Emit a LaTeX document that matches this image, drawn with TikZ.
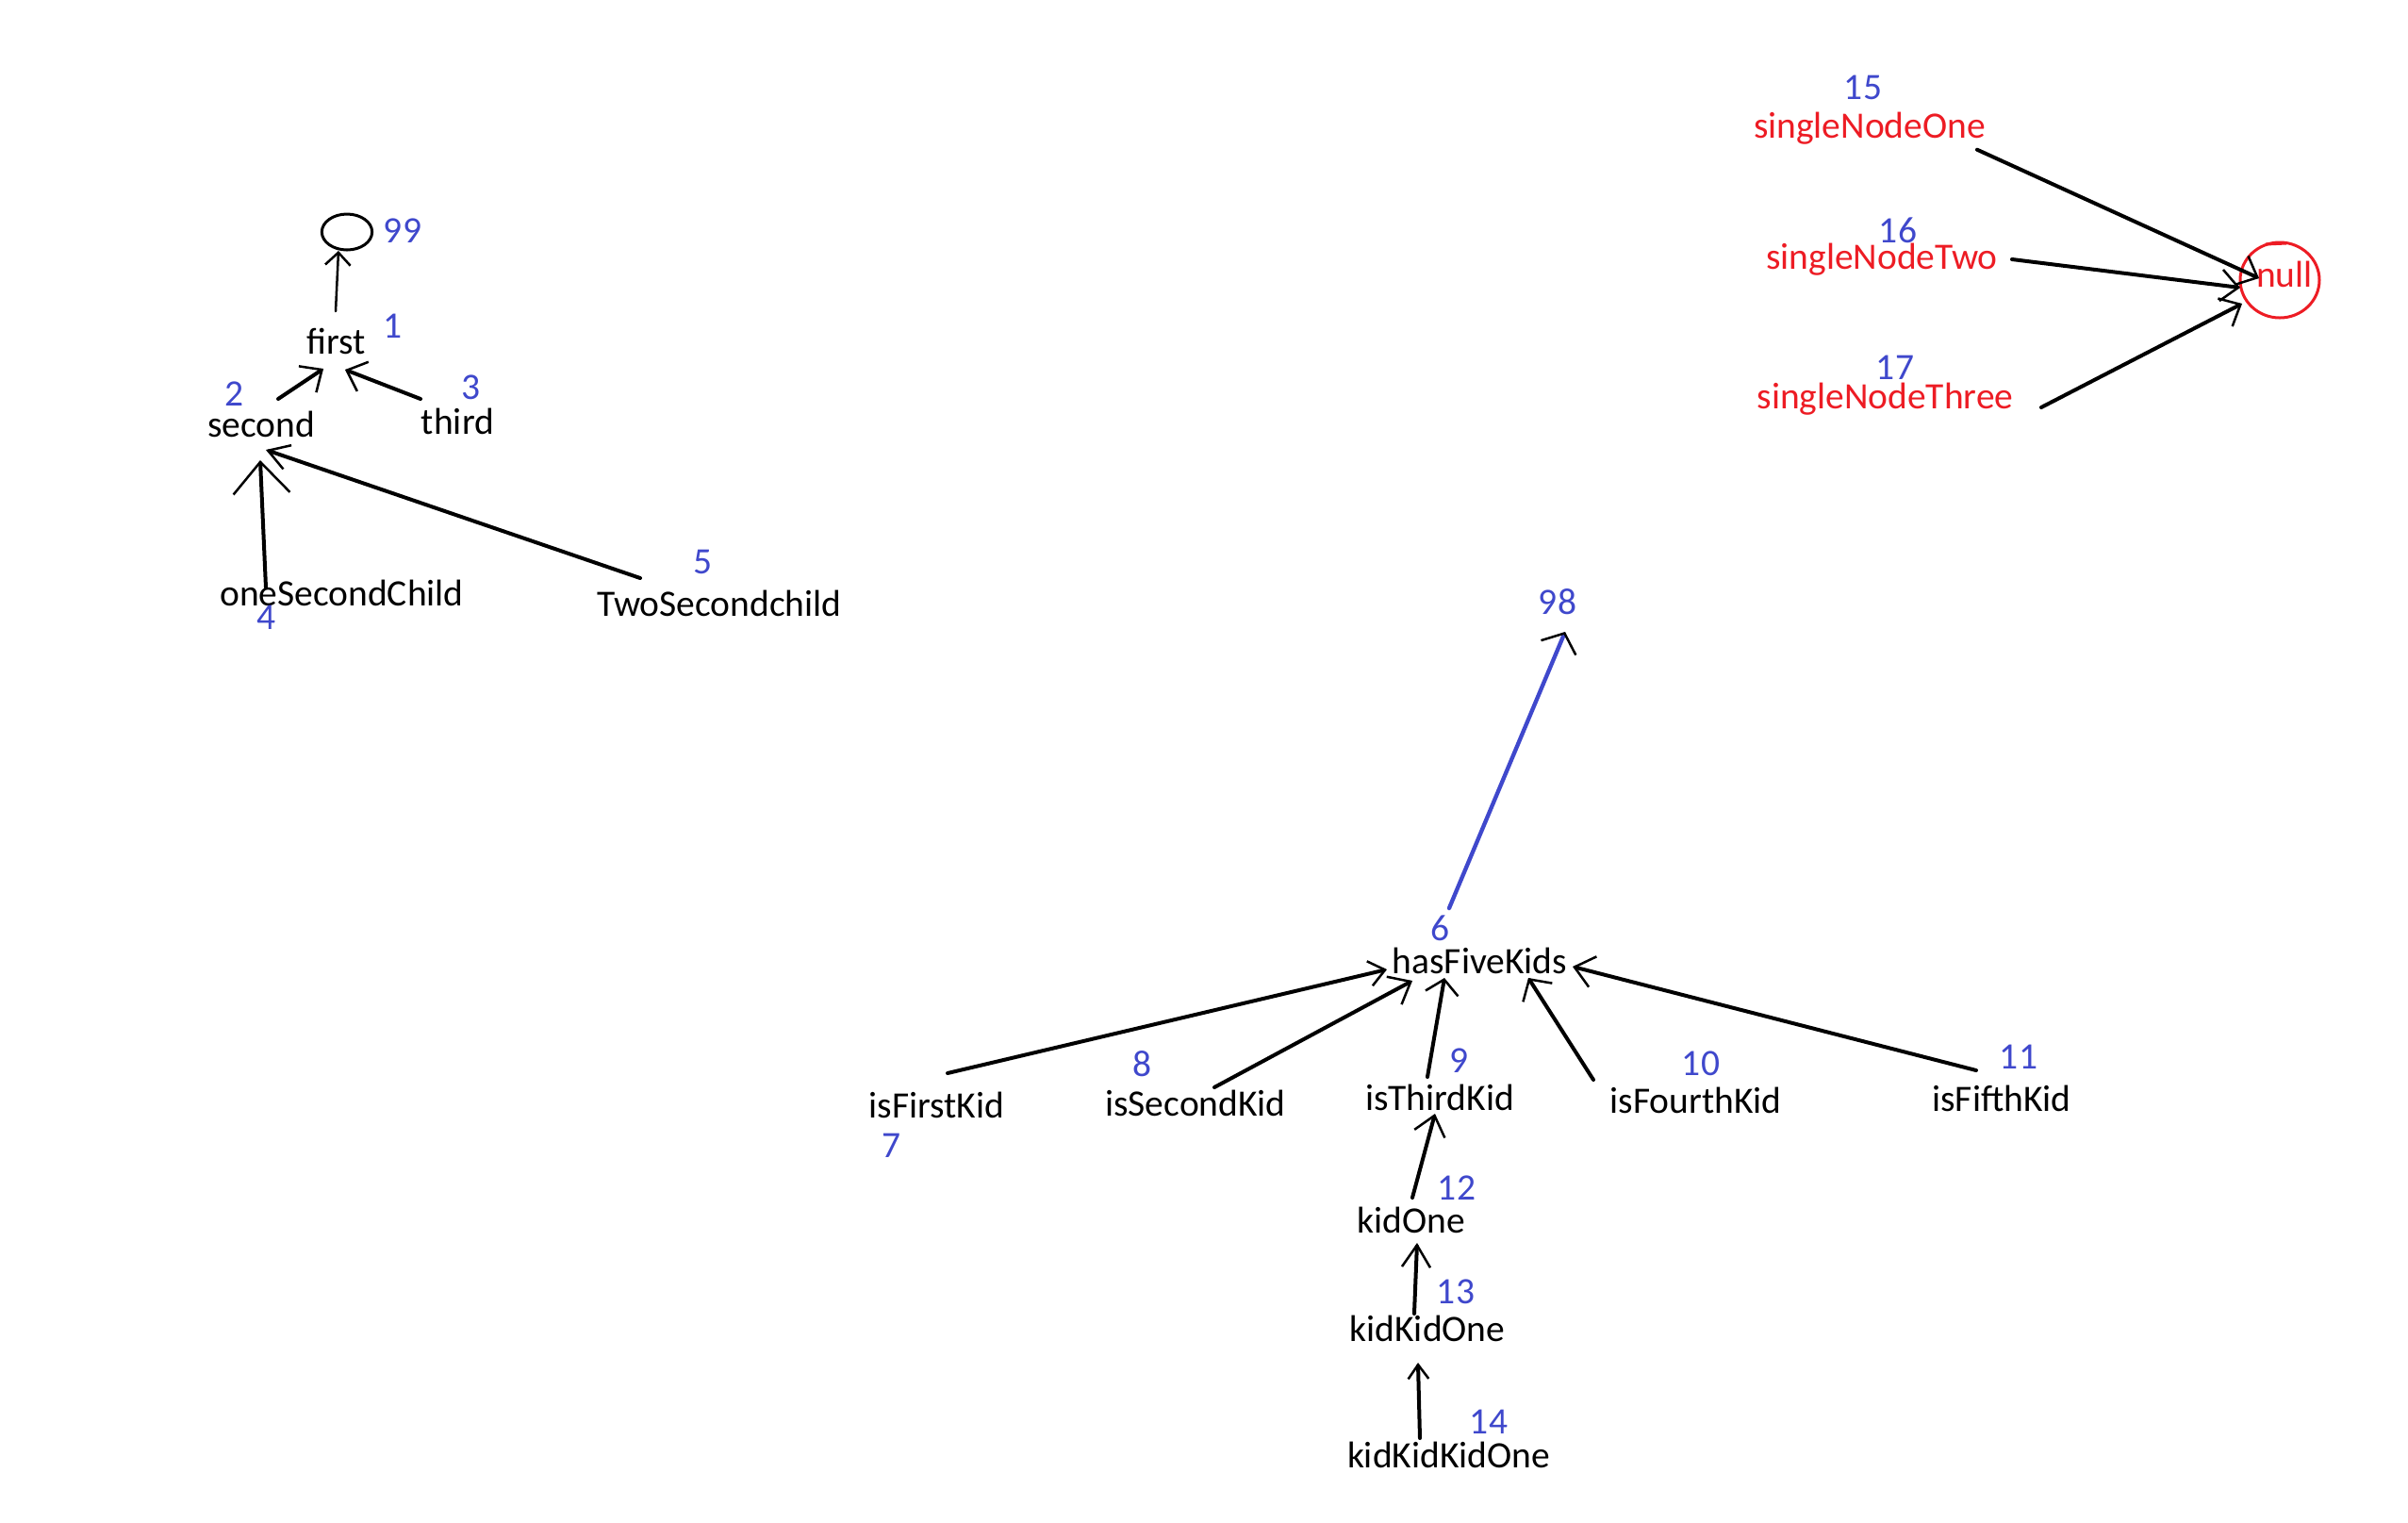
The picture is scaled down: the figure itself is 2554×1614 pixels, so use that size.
\documentclass[tikz,border=0pt]{standalone}
\usepackage{fontspec}
\setmainfont{Carlito}
\usetikzlibrary{arrows.meta,calc,shapes.geometric}
\definecolor{paintblue}{HTML}{3F48CC}
\definecolor{paintred}{HTML}{ED1C24}
\begin{document}
\begin{tikzpicture}[x=0.3pt,y=-0.3pt,
  lbl/.style={anchor=base,inner sep=0pt,font=\fontsize{11.85}{14}\selectfont},
  word/.style={lbl,text=black},
  idx/.style={lbl,text=paintblue},
  rword/.style={lbl,text=paintred},
  arr/.style n args={2}{-{Straight Barb[length=#1,width=#2,line width=0.75pt]}},
  link/.style={draw=black,line width=1.2pt,line cap=round,arr={5.5pt}{10pt}},
  thinlink/.style={draw=black,line width=0.75pt,line cap=round,arr={4pt}{8pt}},
  bluelink/.style={draw=paintblue,line width=1.3pt,line cap=round,
    -{Straight Barb[length=5pt,width=12pt,line width=0.75pt,color=black]}},
  pen/.style={line width=0.9pt}]
\path[use as bounding box,fill=white] (0,0) rectangle (2554,1614);

% ---- first tree ----
\node[draw,pen,ellipse,minimum width=16pt,minimum height=11.4pt,inner sep=0pt] (n99) at (368,246) {};
\node[idx] (num99) at (427,257) {99};
\node[word] (first) at (357,375) {first};
\node[idx] (num1) at (417,358) {1};
\node[word] (second) at (277,463) {second};
\node[idx] (num2) at (249,430) {2};
\node[word] (third) at (485.5,460) {third};
\node[idx] (num3) at (500,423) {3};
\node[word] (oneSecondChild) at (362.5,642) {oneSecondChild};
\node[idx] (num4) at (283,667) {4};
\node[word] (TwoSecondchild) at (763,653) {TwoSecondchild};
\node[idx] (num5) at (746,608) {5};

\draw[thinlink] ($(first.base)+(-1,-45)$) -- ($(n99.center)+(-9,20)$);
\draw[link] ($(second.base)+(18,-40)$) -- ($(first.base)+(-14,16)$);
\draw[link] ($(third.base)+(-39.5,-37)$) -- ($(first.base)+(9,17)$);
\draw[link,arr={10pt}{18pt}] ($(oneSecondChild.base)+(-80.5,-19)$) -- ($(second.base)+(-1,25)$);
\draw[link,arr={6.5pt}{8pt}] ($(TwoSecondchild.base)+(-84,-40)$) -- ($(second.base)+(5,14)$);

% ---- second tree ----
\node[idx] (num98) at (1652,651) {98};
\node[word] (hasFiveKids) at (1569.5,1032) {hasFiveKids};
\node[idx] (num6) at (1528,997) {6};
\node[word] (isFirstKid) at (993.5,1185) {isFirstKid};
\node[idx] (num7) at (946,1227) {7};
\node[word] (isSecondKid) at (1268,1183) {isSecondKid};
\node[idx] (num8) at (1212,1141) {8};
\node[word] (isThirdKid) at (1527,1177) {isThirdKid};
\node[idx] (num9) at (1547,1137) {9};
\node[word] (isFourthKid) at (1798.5,1180) {isFourthKid};
\node[idx] (num10) at (1804,1140) {10};
\node[word] (isFifthKid) at (2123,1178) {isFifthKid};
\node[idx] (num11) at (2141,1133) {11};
\node[word] (kidOne) at (1497,1307) {kidOne};
\node[idx] (num12) at (1545,1272) {12};
\node[word] (kidKidOne) at (1514,1422) {kidKidOne};
\node[idx] (num13) at (1544,1382) {13};
\node[word] (kidKidKidOne) at (1536.5,1556) {kidKidKidOne};
\node[idx] (num14) at (1579,1520) {14};

\draw[bluelink] ($(num6.base)+(9,-34)$) -- ($(num98.base)+(8,19)$);
\draw[link,arr={5pt}{8pt}] ($(isFirstKid.base)+(11.5,-47)$) -- ($(hasFiveKids.base)+(-98.5,-4)$);
\draw[link,arr={6pt}{10pt}] ($(isSecondKid.base)+(20,-30)$) -- ($(hasFiveKids.base)+(-71.5,8)$);
\draw[link,arr={4.5pt}{10.5pt}] ($(isThirdKid.base)+(-13,-35)$) -- ($(hasFiveKids.base)+(-37.5,5)$);
\draw[link,arr={5pt}{11pt}] ($(isFourthKid.base)+(-108.5,-35)$) -- ($(hasFiveKids.base)+(51.5,5)$);
\draw[link,arr={6pt}{10pt}] ($(isFifthKid.base)+(-27,-43)$) -- ($(hasFiveKids.base)+(98.5,-7)$);
\draw[link,arr={6pt}{10pt}] ($(kidOne.base)+(1,-37)$) -- ($(isThirdKid.base)+(-5,4)$);
\draw[link,arr={7pt}{9pt}] ($(kidKidOne.base)+(-14,-29)$) -- ($(kidOne.base)+(6,11)$);
\draw[link,arr={4.5pt}{6.5pt}] ($(kidKidKidOne.base)+(-30.5,-31)$) -- ($(kidKidOne.base)+(-10,23)$);

% ---- single nodes pointing to null ----
\node[idx] (num15) at (1976,105) {15};
\node[rword] (singleNodeOne) at (1983,146.7) {singleNodeOne};
\node[idx] (num16) at (2013,257) {16};
\node[rword] (singleNodeTwo) at (1996,285) {singleNodeTwo};
\node[idx] (num17) at (2010,402) {17};
\node[rword] (singleNodeThree) at (1999.5,433) {singleNodeThree};
\node[rword] (null) at (2423,304) {null};
\draw[paintred,pen] ($(null.base)+(-5,-7)$) ellipse [x radius=42, y radius=40];
\draw[paintred,pen] ($(null.base)+(-20,-45)$) -- ++(22,-1);

\draw[link] ($(singleNodeOne.base)+(114,12)$) -- ($(null.base)+(-27,-9)$);
\draw[link] ($(singleNodeTwo.base)+(138,-10)$) -- ($(null.base)+(-47,1)$);
\draw[link] ($(singleNodeThree.base)+(165.5,-1)$) -- ($(null.base)+(-45,18)$);
\end{tikzpicture}
\end{document}
